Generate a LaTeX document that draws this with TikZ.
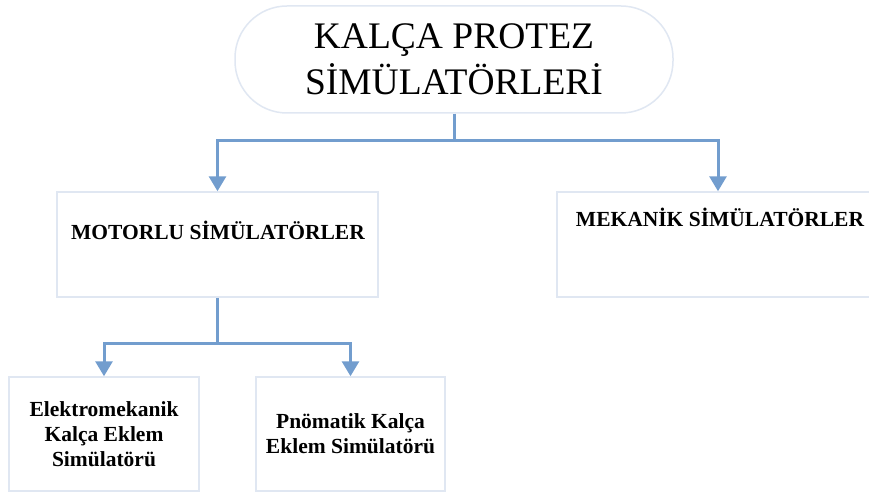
\documentclass[tikz,border=0pt]{standalone}
\usepackage{fontspec}
\setmainfont{Liberation Serif}
\usetikzlibrary{arrows.meta}
\definecolor{conncol}{RGB}{114,157,206}
\definecolor{boxcol}{RGB}{224,231,242}
\begin{document}
\begin{tikzpicture}[x=1pt,y=-1pt,
  box/.style={draw=boxcol,line width=1.5pt,fill=white,inner sep=0pt},
  conn/.style={draw=conncol,line width=3pt,-{Triangle[width=17pt,length=15pt]}},
  line/.style={draw=conncol,line width=3pt},
  mid/.style={font=\fontsize{21.5}{25}\selectfont\bfseries},
  small/.style={font=\fontsize{21.5}{25}\selectfont\bfseries,align=center}]
\useasboundingbox (0,0) rectangle (869,492);
\node[box,rounded corners=52pt,minimum width=438pt,minimum height=107pt,
  font=\fontsize{37.5}{46}\selectfont,align=center] (title) at (454,59.5)
  {KALÇA PROTEZ\\SİMÜLATÖRLERİ};
\node[box,minimum width=321pt,minimum height=105pt] (motor) at (217.5,244.5) {};
\node[mid] (motortext) at (218,230) {MOTORLU SİMÜLATÖRLER};
\node[box,minimum width=322pt,minimum height=105pt] (mek) at (718,244.5) {};
\node[mid] (mektext) at (720,217) {MEKANİK SİMÜLATÖRLER};
\node[box,minimum width=190pt,minimum height=114pt,small] (elek) at (104,434)
  {Elektromekanik\\Kalça Eklem\\Simülatörü};
\node[box,minimum width=189pt,minimum height=114pt,small] (pnom) at (350.5,434)
  {Pnömatik Kalça\\Eklem Simülatörü};
\coordinate (j1) at (454,140);
\coordinate (j2) at (217.5,343);
\draw[line] (title.south) -- (j1);
\draw[conn] (j1) -| (motor.north);
\draw[conn] (j1) -| (mek.north);
\draw[line] (motor.south) -- (j2);
\draw[conn] (j2) -| (elek.north);
\draw[conn] (j2) -| (pnom.north);
\end{tikzpicture}
\end{document}
